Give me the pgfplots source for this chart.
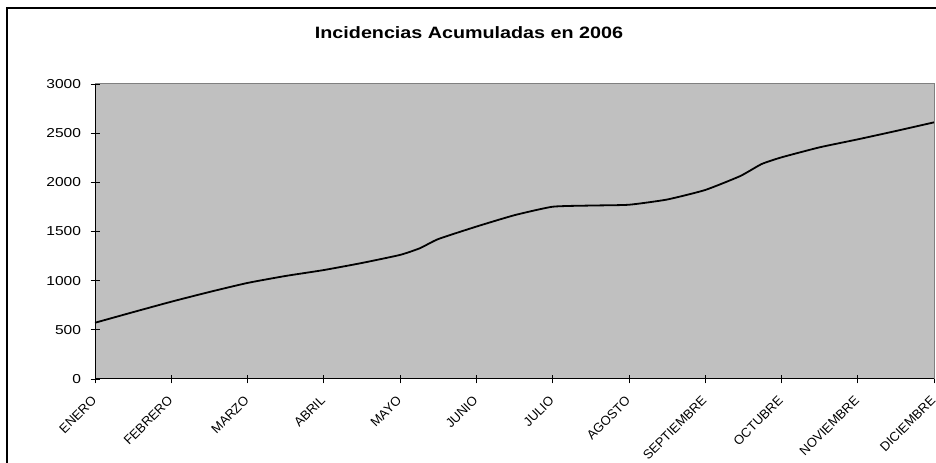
\documentclass[border=0pt]{standalone}
\usepackage{fontspec}
\setmainfont{Liberation Sans}
\usepackage{pgfplots}
\pgfplotsset{compat=1.18}
\definecolor{plotgray}{RGB}{192,192,192}
\definecolor{edgegray}{RGB}{128,128,128}
% the reference text is a little wider than Arial
\newcommand{\wide}[1]{\scalebox{1.2}[1]{#1}}

\begin{document}
\begin{tikzpicture}
  \useasboundingbox (0,0) rectangle (936bp,463bp);
  % chart frame (only left and top edges are inside the picture)
  \draw[line width=1.2bp] (7bp,0) -- (7bp,455bp) -- (936bp,455bp);
  \node[font=\bfseries\fontsize{16.5}{19}\selectfont] at (469bp,430bp) {\wide{Incidencias Acumuladas en 2006}};
  \begin{axis}[
      at={(95bp,84bp)}, anchor=south west,
      scale only axis, width=839bp, height=295bp,
      xmin=0, xmax=11, ymin=0, ymax=3000,
      axis background/.style={fill=plotgray},
      axis lines=left, axis line style={-, line width=1bp, black},
      xtick={0,...,11},
      xticklabels={ENERO,FEBRERO,MARZO,ABRIL,MAYO,JUNIO,JULIO,AGOSTO,SEPTIEMBRE,OCTUBRE,NOVIEMBRE,DICIEMBRE},
      ytick={0,500,...,3000},
      yticklabel={\wide{\pgfmathprintnumber{\tick}}},
      tick align=center, major tick length=9bp,
      tick style={black, line width=0.8bp},
      scaled y ticks=false,
      /pgf/number format/1000 sep={},
      /pgf/number format/assume math mode=true,
      yticklabel style={font=\fontsize{13}{15}\selectfont, xshift=-6bp},
      xticklabel style={font=\fontsize{13}{15}\selectfont, rotate=45, anchor=north east, inner sep=1bp, xshift=-10bp, yshift=-4bp},
      clip=false,
    ]
    \draw[edgegray, line width=1bp] (rel axis cs:0,1) -- (rel axis cs:1,1) -- (rel axis cs:1,0);
    \addplot[black, line width=1.8bp, smooth, tension=0.3] coordinates {
      (0,572) (0.5,680) (1,786) (1.5,885) (2,977) (2.5,1048) (3,1108)
      (3.5,1180) (4,1262) (4.26,1330) (4.5,1423) (5,1550) (5.5,1666)
      (6,1752) (6.5,1764) (7,1772) (7.5,1825) (8,1922) (8.46,2064)
      (8.74,2186) (9,2254) (9.5,2356) (10,2437) (10.5,2522) (11,2610)
    };
  \end{axis}
\end{tikzpicture}
\end{document}
